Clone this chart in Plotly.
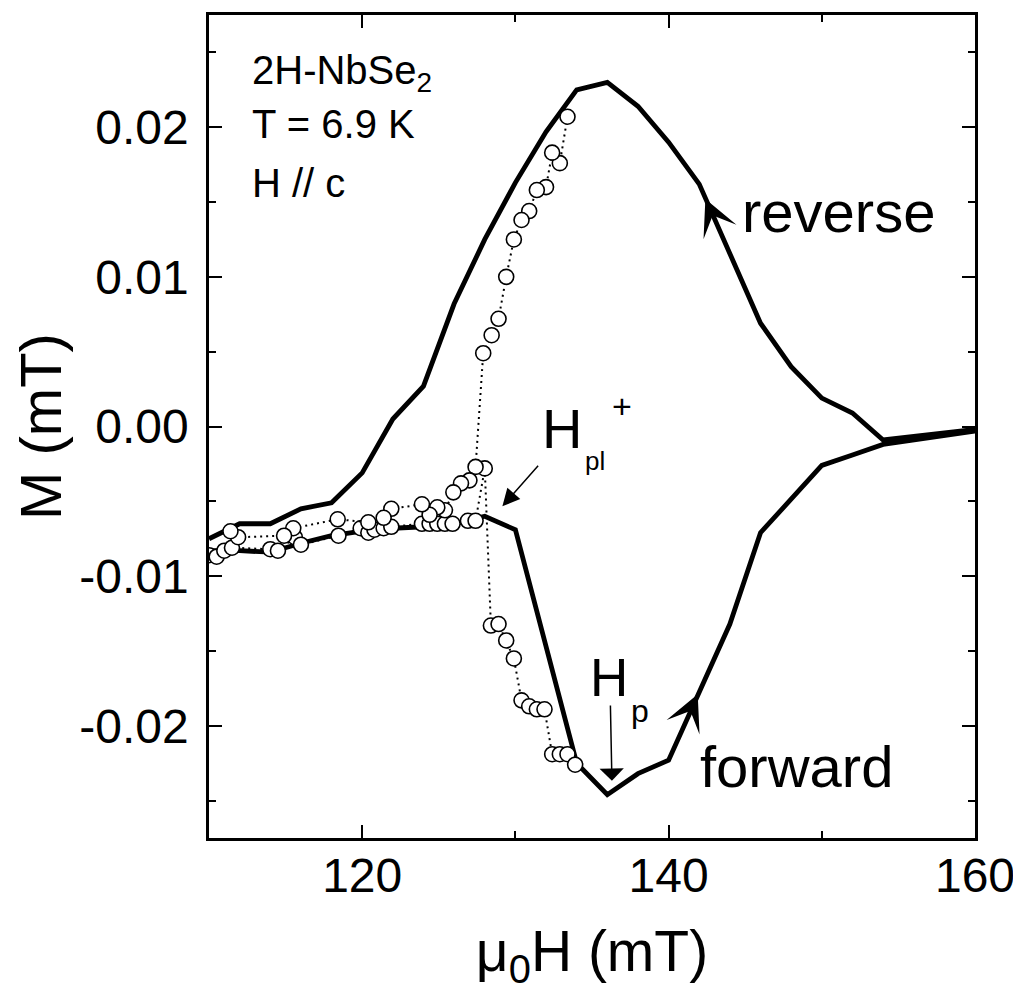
import plotly.graph_objects as go

# ---------------- data ----------------
# thick loop, forward (increasing field) branch
fwd_H = [110, 112, 114, 116, 118, 120, 122, 124, 126, 128, 130, 134, 136, 138, 140,
         142, 144, 146, 148, 150, 152, 154, 160]
fwd_M = [-0.0083, -0.0083, -0.0084, -0.0078, -0.0073, -0.0070, -0.0068, -0.0067, -0.0065,
         -0.0060, -0.0069, -0.0225, -0.0246, -0.0232, -0.0223, -0.0178, -0.0132, -0.0071,
         -0.0048, -0.0026, -0.0019, -0.0012, -0.0003]
# thick loop, reverse (decreasing field) branch
rev_H = [160, 154, 152, 150, 148, 146, 144, 142, 140, 138, 136, 134, 132, 130, 128, 126,
         124, 122, 120, 118, 116, 114, 112, 110]
rev_M = [-0.0002, -0.0009, 0.0009, 0.0019, 0.0040, 0.0069, 0.0116, 0.0162, 0.0190, 0.0214,
         0.0230, 0.0225, 0.0197, 0.0163, 0.0125, 0.0082, 0.0027, 0.0005, -0.0031, -0.0051,
         -0.0055, -0.0065, -0.0065, -0.0075]

# open-circle data, forward sweep
cf_H = [110.0, 110.5, 111.0, 111.5, 114.0, 114.5, 115.6, 116.0, 118.45, 119.9, 120.4, 120.8,
        121.4, 121.9, 123.9, 124.4, 124.9, 125.4, 125.9, 126.9, 127.4, 128.0, 128.4, 128.9,
        129.4, 129.9, 130.4, 130.9, 131.4, 131.9, 132.4, 132.9, 133.4, 133.9]
cf_M = [-0.0086, -0.0087, -0.0083, -0.0081, -0.0082, -0.0083, -0.0074, -0.0079, -0.0073,
        -0.0068, -0.0071, -0.0069, -0.0068, -0.0067, -0.0065, -0.0065, -0.0065, -0.0065,
        -0.0065, -0.0063, -0.0063, -0.0028, -0.0133, -0.0132, -0.0143, -0.0155, -0.0183,
        -0.0187, -0.0189, -0.0189, -0.0219, -0.0219, -0.0219, -0.0226]
# open-circle data, reverse sweep
cr_H = [133.4, 132.9, 132.4, 132.0, 131.4, 130.9, 130.4, 129.9, 129.4, 128.9, 128.45, 127.9,
        127.4, 127.0, 126.45, 125.95, 125.4, 124.9, 124.4, 123.9, 121.9, 121.4, 120.4, 118.4,
        115.5, 114.9, 111.9, 111.4]
cr_M = [0.0207, 0.0176, 0.0183, 0.0160, 0.0158, 0.0144, 0.0138, 0.0125, 0.0100, 0.0072,
        0.0061, 0.0049, -0.0027, -0.0036, -0.0038, -0.0044, -0.0056, -0.0054, -0.0059,
        -0.0052, -0.0055, -0.0061, -0.0064, -0.0062, -0.0068, -0.0073, -0.0074, -0.0070]

x_tick_vals = [120, 140, 160]
x_tick_text = ["120", "140", "160"]
y_tick_vals = [-0.02, -0.01, 0.0, 0.01, 0.02]
y_tick_text = ["-0.02", "-0.01", "0.00", "0.01", "0.02"]

FONT = "Liberation Sans, Arial, sans-serif"

fig = go.Figure()

fig.add_trace(go.Scatter(x=fwd_H + rev_H, y=fwd_M + rev_M, mode="lines",
                         line=dict(color="black", width=4.8), hoverinfo="skip"))

circle_marker = dict(symbol="circle", size=15, color="white",
                     line=dict(color="black", width=1.6))
for hx, my in ((cf_H, cf_M), (cr_H, cr_M)):
    fig.add_trace(go.Scatter(x=hx, y=my, mode="lines+markers",
                             line=dict(color="black", width=2, dash="2px,4px"),
                             marker=circle_marker, hoverinfo="skip"))

def txt(x, y, s, size, xanchor="left", yanchor="top"):
    fig.add_annotation(x=x, y=y, xref="x", yref="y", text=s, showarrow=False,
                       xanchor=xanchor, yanchor=yanchor,
                       font=dict(family=FONT, size=size, color="black"))

txt(112.7, 0.02545, "2H-NbSe<sub>2</sub>", 40)
txt(112.7, 0.02180, "T = 6.9 K", 40)
txt(112.7, 0.01790, "H // c", 40)
txt(144.64, 0.0167, "reverse", 58)
txt(141.9, -0.02043, "forward", 58)
txt(131.63, 0.00209, "H", 56)
txt(134.44, -0.00117, "pl", 26)
txt(136.96, 0.0014, "+", 34, xanchor="center", yanchor="middle")
txt(134.71, -0.01468, "H", 53)
txt(137.42, -0.01767, "p", 32)

def arrow(x, y, ax, ay, head, size, width, axref="x", ayref="y"):
    fig.add_annotation(x=x, y=y, ax=ax, ay=ay, xref="x", yref="y", axref=axref, ayref=ayref,
                       text="", showarrow=True, arrowhead=head, arrowsize=size,
                       arrowwidth=width, arrowcolor="black", standoff=0)

# H_pl arrow and H_p arrow
arrow(129.15, -0.00533, 131.57, -0.00253, 2, 2.3, 1.5)
arrow(136.3, -0.02367, 136.2, -0.01855, 1, 2.7, 1.5)
# direction darts on the loop
arrow(142.4, 0.0152, 12, 27, 3, 6, 1, axref="pixel", ayref="pixel")
arrow(141.9, -0.0179, -12, 27, 3, 6, 1, axref="pixel", ayref="pixel")

axis_common = dict(showline=True, linecolor="black", linewidth=2.5, mirror="ticks",
                   ticks="inside", ticklen=13, tickwidth=2, tickcolor="black",
                   showgrid=False, zeroline=False, automargin=True,
                   tickfont=dict(family=FONT, size=48, color="black"))

fig.update_xaxes(range=[110, 160], tickmode="array", tickvals=x_tick_vals,
                 ticktext=x_tick_text, ticklabelstandoff=-6,
                 minor=dict(dtick=10, tick0=0, ticks="inside", ticklen=7, tickwidth=2,
                            tickcolor="black", showgrid=False),
                 title=dict(text="μ<sub>0</sub>H (mT)", font=dict(family=FONT, size=57,
                            color="black"), standoff=30),
                 **axis_common)
fig.update_yaxes(range=[-0.0275, 0.0275], tickmode="array", tickvals=y_tick_vals,
                 ticktext=y_tick_text, ticklabelstandoff=8,
                 minor=dict(dtick=0.005, tick0=0, ticks="inside", ticklen=7, tickwidth=2,
                            tickcolor="black", showgrid=False),
                 title=dict(text="M (mT)", font=dict(family=FONT, size=58, color="black"),
                            standoff=20),
                 **axis_common)

# page body has an 8 px default margin (left/top), so the figure is 8 px smaller
fig.update_layout(width=1013, height=1000, margin=dict(l=201, r=46, t=4, b=170),
                  plot_bgcolor="white", paper_bgcolor="white", showlegend=False)

fig.write_html("out.html")
